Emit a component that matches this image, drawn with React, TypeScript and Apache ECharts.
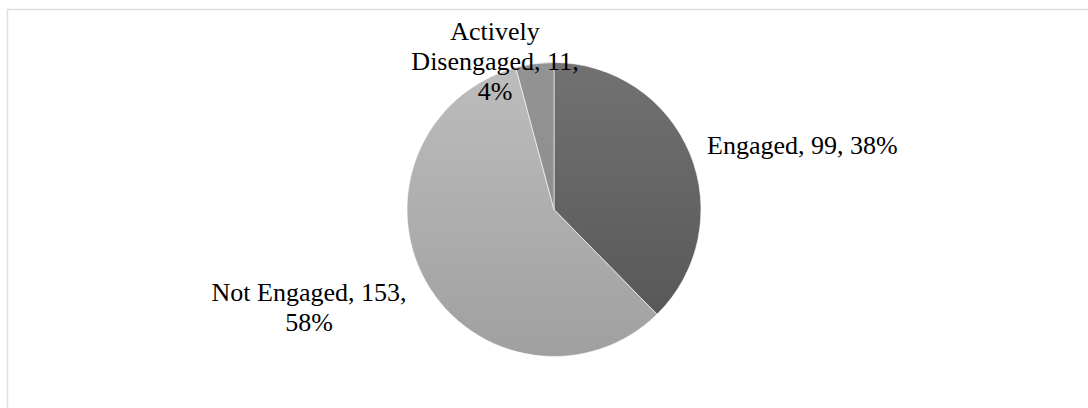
import React, { useEffect, useRef } from "react";
import * as echarts from "echarts";

const categories = ["Engaged", "Not Engaged", "Actively Disengaged"];
const values = [99, 153, 11];

// label layout (positions of the data labels, text templates)
const labelTemplates = [
  "{name}, {value}, {pct}%",
  "{name}, {value},\n{pct}%",
  "{nameBroken}, {value},\n{pct}%",
];
const labelPos = [
  { x: 707, y: 145, align: "left" },
  { x: 309, y: 307, align: "center" },
  { x: 495, y: 61, align: "center" },
];

const topColors = ["#727272", "#bdbdbd", "#939393"];
const bottomColors = ["#545454", "#a0a0a0", "#8a8a8a"];

export default function App() {
  const ref = useRef<HTMLDivElement>(null);
  useEffect(() => {
    if (!ref.current) return;
    const chart = echarts.init(ref.current, null, { renderer: "svg" });
    const data = categories.map((name, i) => ({
      name,
      value: values[i],
      itemStyle: {
        color: new echarts.graphic.LinearGradient(0, 63, 0, 356, [
          { offset: 0, color: topColors[i] },
          { offset: 1, color: bottomColors[i] },
        ], true),
      },
    }));
    chart.setOption({
      animation: false,
      backgroundColor: "#ffffff",
      textStyle: { fontFamily: "Liberation Serif" },
      graphic: [
        {
          type: "rect",
          shape: { x: 7.5, y: 9.5, width: 1200, height: 600 },
          style: { fill: "none", stroke: "#dcdfe3", lineWidth: 1.5 },
          silent: true,
          z: 0,
        },
      ],
      series: [
        {
          type: "pie",
          center: [554, 209.5],
          radius: 147,
          startAngle: 90,
          clockwise: true,
          avoidLabelOverlap: false,
          itemStyle: { borderColor: "#ffffff", borderWidth: 0.6 },
          label: {
            show: true,
            position: "outside",
            color: "#000000",
            fontFamily: "Liberation Serif",
            fontSize: 26,
            lineHeight: 30,
            formatter: (p: any) => {
              const pct = Math.round(p.percent);
              return labelTemplates[p.dataIndex]
                .replace("{nameBroken}", String(p.name).replace(" ", "\n"))
                .replace("{name}", p.name)
                .replace("{value}", String(p.value))
                .replace("{pct}", String(pct));
            },
          },
          labelLine: { show: false },
          labelLayout: (params: any) => {
            const lp = labelPos[params.dataIndex];
            return { x: lp.x, y: lp.y, align: lp.align, verticalAlign: "middle" };
          },
          emphasis: { disabled: true },
          data,
        },
      ],
    });
    return () => chart.dispose();
  }, []);
  return (
    <div
      ref={ref}
      style={{ position: "absolute", left: 0, top: 0, width: 1088, height: 408 }}
    />
  );
}
